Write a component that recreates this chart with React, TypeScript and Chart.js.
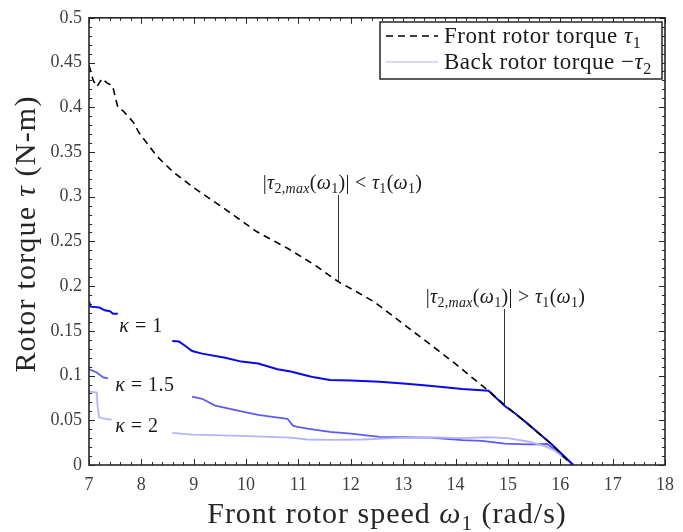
import React, { useEffect, useRef } from 'react';
import { Chart, registerables } from 'chart.js';

Chart.register(...registerables);

// ---------- data ----------
const xTickValues = [7, 8, 9, 10, 11, 12, 13, 14, 15, 16, 17, 18];
const yTickValues = [0, 0.05, 0.1, 0.15, 0.2, 0.25, 0.3, 0.35, 0.4, 0.45, 0.5];

const frontSpeed = [7.0, 7.08, 7.15, 7.25, 7.35, 7.45, 7.55, 7.65, 7.85, 7.95, 8.3, 8.6, 9.0, 9.6, 10.2, 10.8, 11.3, 11.76, 12.1, 12.43, 12.75, 13.06, 13.4, 13.69, 14.0, 14.31, 14.63, 14.94, 15.15, 15.38, 15.6, 15.82, 16.0, 16.23];
const frontTorque = [0.447, 0.43, 0.423, 0.432, 0.427, 0.424, 0.4, 0.396, 0.383, 0.372, 0.345, 0.328, 0.31, 0.286, 0.261, 0.242, 0.224, 0.205, 0.194, 0.183, 0.169, 0.155, 0.14, 0.127, 0.113, 0.098, 0.083, 0.067, 0.057, 0.046, 0.035, 0.024, 0.013, 0.0];

const k1Speed = [7.0, 7.03, 7.2, 7.3, 7.4, 7.46, 7.55, 8.0, 8.59, 8.72, 8.84, 8.97, 9.16, 9.6, 9.91, 10.23, 10.6, 10.85, 11.17, 11.3, 11.6, 12.0, 12.55, 13.0, 13.5, 14.13, 14.63, 14.94, 15.15, 15.38, 15.6, 15.82, 16.0, 16.25];
const k1Torque = [0.183, 0.177, 0.176, 0.173, 0.172, 0.169, 0.169, null, 0.1386, 0.138, 0.133, 0.1275, 0.1245, 0.12, 0.1156, 0.1134, 0.107, 0.1045, 0.0998, 0.098, 0.095, 0.0945, 0.093, 0.091, 0.0887, 0.085, 0.083, 0.066, 0.057, 0.046, 0.035, 0.024, 0.014, 0.0];

const k15Speed = [7.0, 7.15, 7.27, 7.36, 8.0, 8.97, 9.16, 9.41, 9.91, 10.23, 10.54, 10.79, 10.89, 10.98, 11.17, 11.6, 12.0, 12.55, 13.0, 13.5, 14.13, 14.5, 14.94, 15.38, 15.75, 15.9, 16.05, 16.25];
const k15Torque = [0.107, 0.1035, 0.098, 0.097, null, 0.0765, 0.074, 0.0665, 0.06, 0.056, 0.0536, 0.0517, 0.0443, 0.0425, 0.0406, 0.037, 0.035, 0.0314, 0.031, 0.0306, 0.0277, 0.027, 0.024, 0.023, 0.0235, 0.017, 0.01, 0.0];

const k2Speed = [7.0, 7.15, 7.16, 7.19, 7.27, 7.43, 8.0, 8.59, 8.97, 9.91, 10.85, 11.17, 11.6, 12.24, 12.8, 13.5, 14.13, 14.6, 15.0, 15.4, 15.7, 15.9, 16.05, 16.25];
const k2Torque = [0.082, 0.081, 0.068, 0.0535, 0.052, 0.0506, null, 0.036, 0.034, 0.0325, 0.0306, 0.0285, 0.028, 0.0285, 0.03, 0.031, 0.03, 0.031, 0.03, 0.026, 0.021, 0.016, 0.009, 0.0];

const kappaLabels = ['κ = 1', 'κ = 1.5', 'κ = 2'];
const kappaLabelPos = [[7.58, 0.149], [7.5, 0.083], [7.5, 0.037]];

const legendLabels = ['Front rotor torque τ1', 'Back rotor torque −τ2'];

// ---------- helpers ----------
const SERIF = '"Liberation Serif", "DejaVu Serif", serif';
type Seg = { t: string; it?: boolean; sub?: boolean };

function segFont(s: Seg, size: number) {
  const sz = s.sub ? size * 0.7 : size;
  return `${s.it ? 'italic ' : ''}${sz}px ${SERIF}`;
}
function richWidth(ctx: CanvasRenderingContext2D, segs: Seg[], size: number) {
  let w = 0;
  for (const s of segs) {
    ctx.font = segFont(s, size);
    w += ctx.measureText(s.t).width;
  }
  return w;
}
function drawRich(ctx: CanvasRenderingContext2D, segs: Seg[], x: number, y: number, size: number, align: 'left' | 'center', color: string, spacing = 0) {
  (ctx as any).letterSpacing = `${spacing}px`;
  const w = richWidth(ctx, segs, size);
  let cx = align === 'center' ? x - w / 2 : x;
  ctx.fillStyle = color;
  ctx.textBaseline = 'alphabetic';
  ctx.textAlign = 'left';
  for (const s of segs) {
    ctx.font = segFont(s, size);
    ctx.fillText(s.t, cx, s.sub ? y + size * 0.22 : y);
    cx += ctx.measureText(s.t).width;
  }
  (ctx as any).letterSpacing = '0px';
}

function pts(xs: number[], ys: (number | null)[]) {
  return xs.map((x, i) => ({ x, y: ys[i] }));
}

const decorPlugin = {
  id: 'decor',
  afterDraw(chart: any) {
    const { ctx, chartArea } = chart;
    const { left, right, top, bottom } = chartArea;
    const xs = chart.scales.x;
    const ys = chart.scales.y;
    ctx.save();
    // tick marks inside, all four sides
    ctx.strokeStyle = '#262626';
    ctx.lineWidth = 1;
    ctx.beginPath();
    for (let i = 0; i <= 55; i++) {
      const v = 7 + i * 0.2;
      const px = Math.round(xs.getPixelForValue(v)) + 0.5;
      const len = i % 5 === 0 ? 6 : 3;
      ctx.moveTo(px, bottom); ctx.lineTo(px, bottom - len);
      ctx.moveTo(px, top); ctx.lineTo(px, top + len);
    }
    for (let i = 0; i <= 50; i++) {
      const v = i * 0.01;
      const py = Math.round(ys.getPixelForValue(v)) + 0.5;
      const len = i % 5 === 0 ? 6 : 3;
      ctx.moveTo(left, py); ctx.lineTo(left + len, py);
      ctx.moveTo(right, py); ctx.lineTo(right - len, py);
    }
    ctx.stroke();
    ctx.lineWidth = 1.6;
    ctx.strokeRect(left, top, right - left, bottom - top);

    // axis titles
    const xTitle: Seg[] = [{ t: 'Front rotor speed ' }, { t: 'ω', it: true }, { t: '1', sub: true }, { t: ' (rad/s)' }];
    drawRich(ctx, xTitle, 387, 523, 30, 'center', '#262626', 1);
    const yTitle: Seg[] = [{ t: 'Rotor torque ' }, { t: 'τ', it: true }, { t: ' (N-m)' }];
    ctx.save();
    ctx.translate(35, 234);
    ctx.rotate(-Math.PI / 2);
    drawRich(ctx, yTitle, 0, 0, 30, 'center', '#262626', 1.2);
    ctx.restore();

    // kappa labels
    kappaLabels.forEach((lab, i) => {
      const [kx, ky] = kappaLabelPos[i];
      const px = xs.getPixelForValue(kx);
      const py = ys.getPixelForValue(ky);
      const parts = lab.split('κ');
      drawRich(ctx, [{ t: 'κ', it: true }, { t: parts[1] }], px, py, 20, 'left', '#1a1a1a', 0.5);
    });

    // annotations
    const ann1: Seg[] = [{ t: '|' }, { t: 'τ', it: true }, { t: '2,', sub: true }, { t: 'max', it: true, sub: true }, { t: '(' }, { t: 'ω', it: true }, { t: '1', sub: true }, { t: ')| < ' }, { t: 'τ', it: true }, { t: '1', sub: true }, { t: '(' }, { t: 'ω', it: true }, { t: '1', sub: true }, { t: ')' }];
    const ann2: Seg[] = ann1.map((s) => (s.t === ')| < ' ? { t: ')| > ' } : s));
    ctx.strokeStyle = '#333';
    ctx.lineWidth = 1;
    const a1x = Math.round(xs.getPixelForValue(11.76)) + 0.5;
    const a1y = ys.getPixelForValue(0.205);
    ctx.beginPath(); ctx.moveTo(a1x, a1y); ctx.lineTo(a1x, 195); ctx.stroke();
    drawRich(ctx, ann1, a1x + 4, 189, 20, 'center', '#1a1a1a', 0.3);
    const a2x = Math.round(xs.getPixelForValue(14.93)) + 0.5;
    const a2y = ys.getPixelForValue(0.067);
    ctx.beginPath(); ctx.moveTo(a2x, a2y); ctx.lineTo(a2x, 309); ctx.stroke();
    drawRich(ctx, ann2, a2x + 1, 303, 20, 'center', '#1a1a1a', 0.3);

    // legend
    const lx = 380, ly = 22, lw = 282, lh = 57;
    ctx.fillStyle = '#fff';
    ctx.fillRect(lx, ly, lw, lh);
    ctx.strokeStyle = '#262626';
    ctx.lineWidth = 1.5;
    ctx.strokeRect(lx, ly, lw, lh);
    ctx.lineWidth = 1.6;
    ctx.strokeStyle = '#000';
    ctx.setLineDash([7, 5]);
    ctx.beginPath(); ctx.moveTo(386, 36); ctx.lineTo(438, 36); ctx.stroke();
    ctx.setLineDash([]);
    ctx.strokeStyle = '#b4b4fa';
    ctx.lineWidth = 1.2;
    ctx.beginPath(); ctx.moveTo(386, 62); ctx.lineTo(438, 62); ctx.stroke();
    const l1 = legendLabels[0].slice(0, -2);
    const l2 = legendLabels[1].slice(0, -2);
    drawRich(ctx, [{ t: l1 }, { t: 'τ', it: true }, { t: '1', sub: true }], 444, 43, 23, 'left', '#1a1a1a', 0.5);
    drawRich(ctx, [{ t: l2 }, { t: 'τ', it: true }, { t: '2', sub: true }], 444, 69, 23, 'left', '#1a1a1a', 0.5);
    ctx.restore();
  },
};

export default function App() {
  const ref = useRef<HTMLCanvasElement | null>(null);
  useEffect(() => {
    document.body.style.margin = '0';
    const canvas = ref.current!;
    const chart = new Chart(canvas, {
      type: 'line',
      data: {
        datasets: [
          { label: legendLabels[0], data: pts(frontSpeed, frontTorque), borderColor: '#000', borderWidth: 1.6, borderDash: [7, 5], pointRadius: 0, tension: 0, spanGaps: false },
          { label: 'κ = 1', data: pts(k1Speed, k1Torque), borderColor: '#0a0ae8', borderWidth: 2, pointRadius: 0, tension: 0, spanGaps: false },
          { label: 'κ = 2', data: pts(k2Speed, k2Torque), borderColor: '#b4b4fa', borderWidth: 1.8, pointRadius: 0, tension: 0, spanGaps: false },
          { label: 'κ = 1.5', data: pts(k15Speed, k15Torque), borderColor: '#5c5cf2', borderWidth: 1.8, pointRadius: 0, tension: 0, spanGaps: false },
        ],
      },
      options: {
        responsive: false,
        animation: false,
        layout: { padding: { top: 11, right: 12, left: 0, bottom: 0 } },
        plugins: { legend: { display: false }, tooltip: { enabled: false } },
        scales: {
          x: {
            type: 'linear',
            min: 7,
            max: 18,
            afterBuildTicks: (s: any) => { s.ticks = xTickValues.map((v) => ({ value: v })); },
            afterFit: (s: any) => { s.height = 67; },
            grid: { display: false, drawTicks: false },
            border: { display: false },
            ticks: { font: { family: SERIF, size: 18 }, color: '#404040', padding: 9, maxRotation: 0, autoSkip: false },
          },
          y: {
            type: 'linear',
            min: 0,
            max: 0.5,
            afterBuildTicks: (s: any) => { s.ticks = yTickValues.map((v) => ({ value: v })); },
            afterFit: (s: any) => { s.width = 89; },
            grid: { display: false, drawTicks: false },
            border: { display: false },
            ticks: { font: { family: SERIF, size: 18 }, color: '#404040', padding: 7, autoSkip: false, callback: (v: any) => String(+Number(v).toFixed(2)) },
          },
        },
      },
      plugins: [decorPlugin],
    });
    return () => chart.destroy();
  }, []);
  return (
    <div style={{ width: 683, height: 532, background: '#fff' }}>
      <canvas ref={ref} width={683} height={532} style={{ display: 'block' }} />
    </div>
  );
}
